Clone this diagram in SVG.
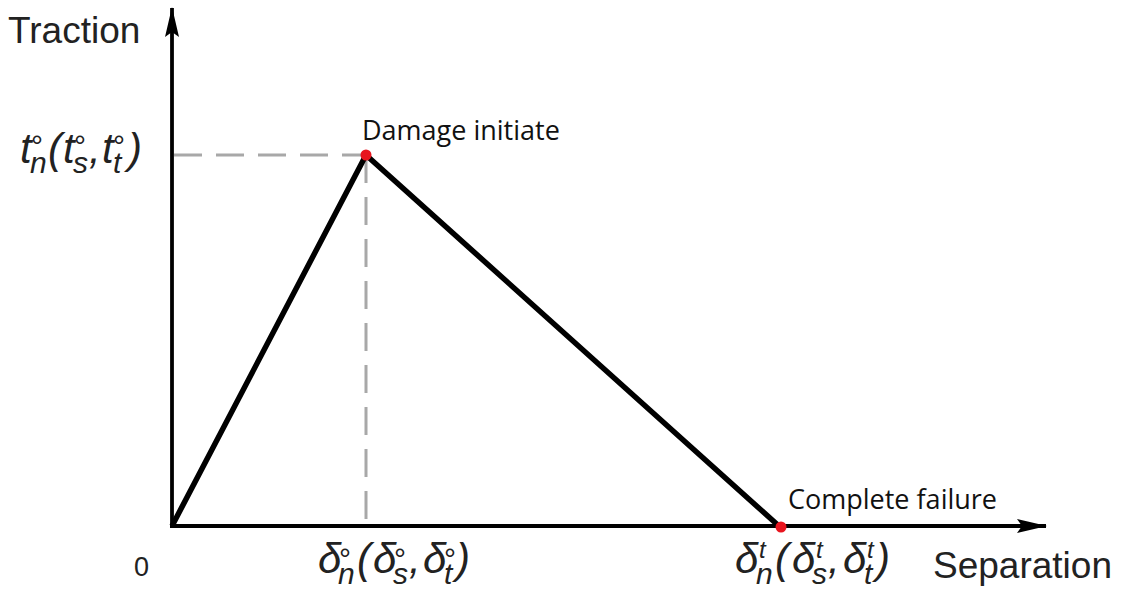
<svg xmlns="http://www.w3.org/2000/svg" width="1124" height="590" viewBox="0 0 1124 590">
<defs>
<marker id="arr" viewBox="0 0 30 14" refX="29" refY="7" markerWidth="30" markerHeight="14" markerUnits="userSpaceOnUse" orient="auto">
<path d="M0,0 L30,7 L0,14 L5,7 Z" fill="#000"/>
</marker>
<style>
.ax{stroke:#000;stroke-width:3.8;fill:none}
.dash{stroke:#a8a8a8;stroke-width:3;stroke-dasharray:28,14;fill:none}
.curve{stroke:#000;stroke-width:5.5;fill:none;stroke-linejoin:round}
.lbl{font-family:"Liberation Sans",Arial,sans-serif;fill:#222}
.note{font-family:"Open Sans","Noto Sans",sans-serif;font-size:27px;fill:#111}
.math{font-family:"Liberation Sans",Arial,sans-serif;font-style:italic;font-size:42px;fill:#222}
.sub{font-size:30px}
.sup{font-size:24px}
.deg{font-style:normal;font-size:30px}
</style>
</defs>
<rect width="1124" height="590" fill="#fff"/>
<g id="connectors">
<line class="dash" x1="174" y1="155" x2="366" y2="155"/>
<line class="dash" x1="366" y1="155" x2="366" y2="524"/>
<polyline class="curve" points="172,526 366,155 780,527"/>
</g>
<g id="axes">
<line class="ax" x1="172" y1="528" x2="172" y2="8" marker-end="url(#arr)"/>
<line class="ax" x1="170" y1="526" x2="1046" y2="526" marker-end="url(#arr)"/>
</g>
<g id="node-peak"><circle cx="366" cy="155" r="5.5" fill="#e8141e"/><text class="note" x="362" y="140">Damage initiate</text></g>
<g id="node-failure"><circle cx="781" cy="527" r="5.5" fill="#e8141e"/><text class="note" x="788" y="509">Complete failure</text></g>
<g id="labels">
<text class="lbl" x="8" y="43" font-size="37">Traction</text>
<text class="lbl" x="1112" y="578" font-size="37" text-anchor="end">Separation</text>
<text class="lbl" x="134" y="576" font-size="27">0</text>
<text class="math">
<tspan x="20" y="163">t</tspan><tspan class="deg" x="31" y="156">°</tspan><tspan class="sub" x="30" y="173">n</tspan>
<tspan x="48" y="163">(</tspan><tspan x="63" y="163">t</tspan><tspan class="deg" x="74" y="156">°</tspan><tspan class="sub" x="73" y="173">s</tspan>
<tspan x="89" y="163">,</tspan><tspan x="102" y="163">t</tspan><tspan class="deg" x="113" y="156">°</tspan><tspan class="sub" x="113" y="173">t</tspan>
<tspan x="128" y="163">)</tspan>
</text>
<text class="math">
<tspan x="318" y="573">δ</tspan><tspan class="deg" x="339" y="569">°</tspan><tspan class="sub" x="338" y="584">n</tspan>
<tspan x="357" y="573">(</tspan><tspan x="373" y="573">δ</tspan><tspan class="deg" x="394" y="569">°</tspan><tspan class="sub" x="393" y="584">s</tspan>
<tspan x="409" y="573">,</tspan><tspan x="423" y="573">δ</tspan><tspan class="deg" x="444" y="569">°</tspan><tspan class="sub" x="444" y="584">t</tspan>
<tspan x="456" y="573">)</tspan>
</text>
<text class="math">
<tspan x="735" y="573">δ</tspan><tspan class="sup" x="759" y="558">t</tspan><tspan class="sub" x="756" y="584">n</tspan>
<tspan x="775" y="573">(</tspan><tspan x="792" y="573">δ</tspan><tspan class="sup" x="816" y="558">t</tspan><tspan class="sub" x="812" y="584">s</tspan>
<tspan x="828" y="573">,</tspan><tspan x="843" y="573">δ</tspan><tspan class="sup" x="867" y="558">t</tspan><tspan class="sub" x="864" y="584">t</tspan>
<tspan x="876" y="573">)</tspan>
</text>
</g>
</svg>
